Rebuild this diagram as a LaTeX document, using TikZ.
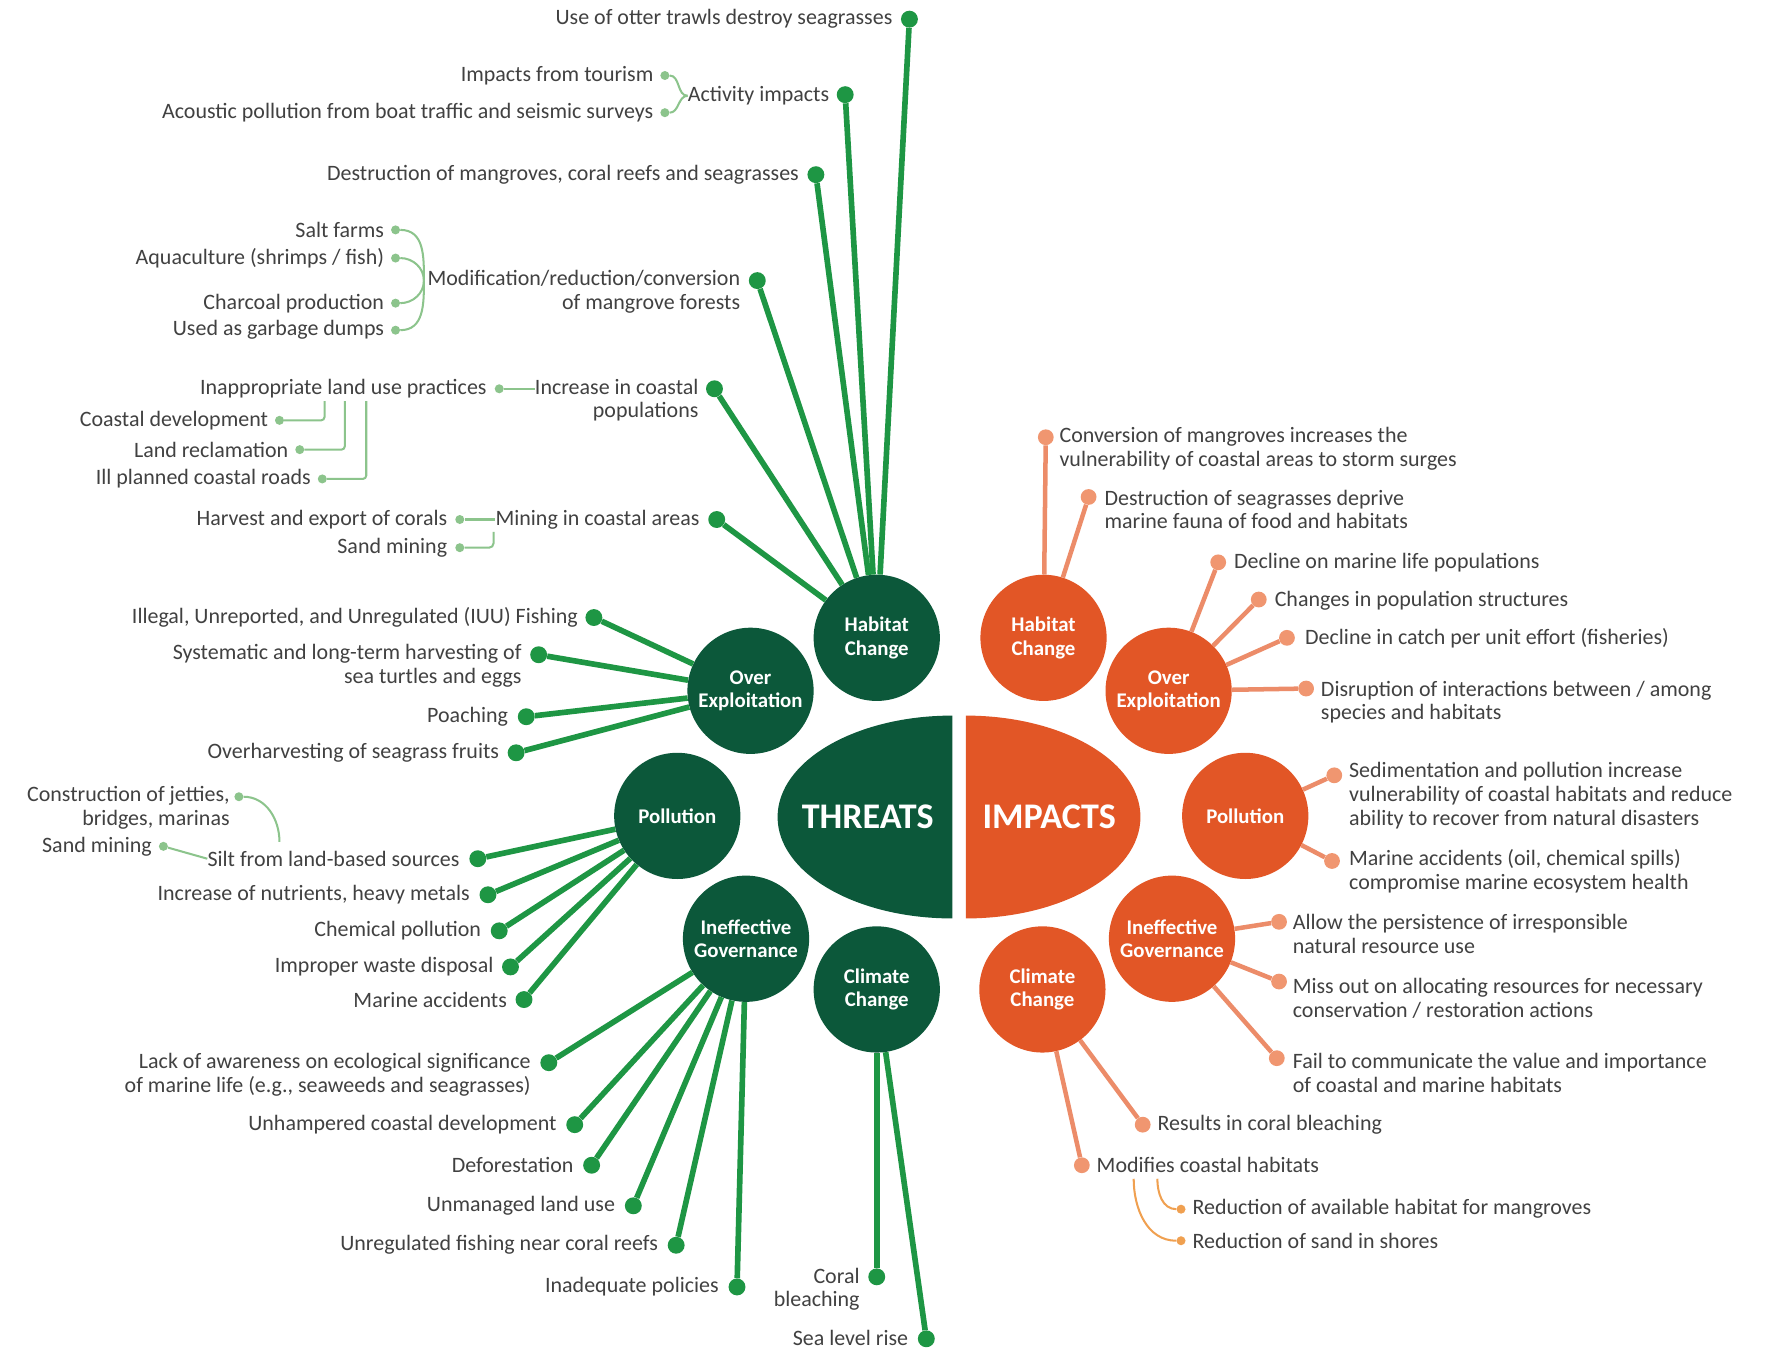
\documentclass[tikz,border=0pt]{standalone}
\usepackage{fontspec}
\setmainfont{Carlito}
\definecolor{gdark}{RGB}{12,88,58}
\definecolor{gline}{RGB}{30,150,68}
\definecolor{glight}{RGB}{140,196,140}
\definecolor{ored}{RGB}{226,86,38}
\definecolor{oline}{RGB}{236,140,105}
\definecolor{odotc}{RGB}{240,150,112}
\definecolor{osub}{RGB}{240,160,80}
\definecolor{txt}{RGB}{65,65,65}
\tikzset{
 gcirc/.style={circle, fill=gdark, minimum size=112pt, inner sep=0pt, text=white, font=\bfseries\fontsize{18.5}{21}\selectfont, align=center},
 ocirc/.style={circle, fill=ored, minimum size=112pt, inner sep=0pt, text=white, font=\bfseries\fontsize{18.5}{21}\selectfont, align=center},
 gdot/.style={circle, fill=gline, minimum size=15pt, inner sep=0pt},
 odot/.style={circle, fill=odotc, minimum size=14pt, inner sep=0pt},
 gsdot/.style={circle, fill=glight, minimum size=8pt, inner sep=0pt},
 osdot/.style={circle, fill=osub, minimum size=8pt, inner sep=0pt},
 lt/.style={anchor=east, align=right, inner sep=0pt, text=txt, font=\fontsize{19.5}{21}\selectfont},
 rt/.style={anchor=west, align=left, inner sep=0pt, text=txt, font=\fontsize{19.5}{21}\selectfont},
 gl/.style={draw=gline, line width=5pt},
 ol/.style={draw=oline, line width=4pt},
 gsl/.style={draw=glight, line width=1.8pt},
 osl/.style={draw=osub, line width=1.8pt},
 big/.style={text=white, font=\bfseries\fontsize{32}{34}\selectfont}
}
\begin{document}
\begin{tikzpicture}[x=1pt,y=1pt]
\fill[white] (0,0) rectangle (1568,-1199);
\useasboundingbox (0,0) rectangle (1568,-1199);

% central shapes
\fill[gdark] (845,-635) arc[start angle=90, end angle=270, x radius=155, y radius=90] -- cycle;
\fill[ored] (857,-635) arc[start angle=90, end angle=-90, x radius=155, y radius=90] -- cycle;
\node[big] (threats) at (770,-725) {THREATS};
\node[big] (impacts) at (931,-725) {IMPACTS};

% threat circles
\node[gcirc] (gH) at (778,-566) {Habitat\\Change};
\node[gcirc] (gO) at (666,-613) {Over\\Exploitation};
\node[gcirc] (gP) at (601,-724) {Pollution};
\node[gcirc] (gG) at (662,-833) {Ineffective\\Governance};
\node[gcirc] (gC) at (778,-878) {Climate\\Change};
% impact circles
\node[ocirc] (oH) at (926,-566) {Habitat\\Change};
\node[ocirc] (oO) at (1037,-613) {Over\\Exploitation};
\node[ocirc] (oP) at (1105,-724) {Pollution};
\node[ocirc] (oG) at (1040,-833) {Ineffective\\Governance};
\node[ocirc] (oC) at (925,-878) {Climate\\Change};

% ---------- Habitat change (threats)
\node[gdot] (H1) at (807,-17) {};
\node[lt] (tH1) at (792,-17) {Use of otter trawls destroy seagrasses};
\node[gdot] (H2) at (750,-84) {};
\node[lt] (tH2) at (736,-85) {Activity impacts};
\node[gsdot] (H2a) at (590,-67) {};
\node[lt] (tH2a) at (580,-67) {Impacts from tourism};
\node[gsdot] (H2b) at (590,-100) {};
\node[lt] (tH2b) at (580,-100) {Acoustic pollution from boat traffic and seismic surveys};
\node[gdot] (H3) at (724,-155) {};
\node[lt] (tH3) at (709,-155) {Destruction of mangroves, coral reefs and seagrasses};
\node[gdot] (H4) at (672,-249) {};
\node[lt] (tH4) at (657,-259) {Modification/reduction/conversion\\of mangrove forests};
\node[gsdot] (H4a) at (351,-204) {};
\node[lt] (tH4a) at (341,-204) {Salt farms};
\node[gsdot] (H4b) at (351,-229) {};
\node[lt] (tH4b) at (341,-229) {Aquaculture (shrimps / fish)};
\node[gsdot] (H4c) at (351,-269) {};
\node[lt] (tH4c) at (341,-269) {Charcoal production};
\node[gsdot] (H4d) at (351,-293) {};
\node[lt] (tH4d) at (341,-293) {Used as garbage dumps};
\node[gdot] (H5) at (634,-345) {};
\node[lt] (tH5) at (620,-355) {Increase in coastal\\populations};
\node[gsdot] (H5a) at (443,-345) {};
\node[lt] (tH5a) at (432,-345) {Inappropriate land use practices};
\node[gsdot] (H5b) at (248,-373) {};
\node[lt] (tH5b) at (238,-373) {Coastal development};
\node[gsdot] (H5c) at (266,-399) {};
\node[lt] (tH5c) at (256,-399) {Land reclamation};
\node[gsdot] (H5d) at (286,-425) {};
\node[lt] (tH5d) at (276,-425) {Ill planned coastal roads};
\node[gdot] (H6) at (636,-461) {};
\node[lt] (tH6) at (621,-461) {Mining in coastal areas};
\node[gsdot] (H6a) at (408,-461) {};
\node[lt] (tH6a) at (397,-461) {Harvest and export of corals};
\node[gsdot] (H6b) at (408,-486) {};
\node[lt] (tH6b) at (397,-486) {Sand mining};

\foreach \d in {H1,H2,H3,H4,H5,H6} \draw[gl] (\d) -- (gH);

\draw[gsl] (H2a) to[out=0,in=180] (tH2.west);
\draw[gsl] (H2b) to[out=0,in=180] (tH2.west);
\coordinate (mj) at ([xshift=-3pt,yshift=10pt]tH4.west);
\draw[gsl] (H4a) to[out=0,in=90,looseness=1.1] (mj);
\draw[gsl] (H4b) to[out=0,in=90] (mj);
\draw[gsl] (H4c) to[out=0,in=-90] (mj);
\draw[gsl] (H4d) to[out=0,in=-90,looseness=1.1] (mj);
\draw[gsl] (H5a) -- (tH5.west |- H5a);
\coordinate (v1) at (288,-356);
\coordinate (v2) at (306,-356);
\coordinate (v3) at (325,-356);
\draw[gsl, rounded corners=3pt] (H5b) -| (v1);
\draw[gsl, rounded corners=3pt] (H5c) -| (v2);
\draw[gsl, rounded corners=3pt] (H5d) -| (v3);
\draw[gsl] (H6a) -- (tH6.west);
\coordinate (sm) at (438,-472);
\draw[gsl, rounded corners=4pt] (H6b) -| (sm);

% ---------- Over exploitation (threats)
\node[gdot] (O1) at (527,-548) {};
\node[lt] (tO1) at (513,-548) {Illegal, Unreported, and Unregulated (IUU) Fishing};
\node[gdot] (O2) at (478,-581) {};
\node[lt] (tO2) at (463,-591) {Systematic and long-term harvesting of\\sea turtles and eggs};
\node[gdot] (O3) at (467,-636) {};
\node[lt] (tO3) at (451,-636) {Poaching};
\node[gdot] (O4) at (458,-668) {};
\node[lt] (tO4) at (443,-668) {Overharvesting of seagrass fruits};
\foreach \d in {O1,O2,O3,O4} \draw[gl] (\d) -- (gO);

% ---------- Pollution (threats)
\node[gdot] (P1) at (424,-762) {};
\node[lt] (tP1) at (408,-762) {Silt from land-based sources};
\node[gsdot] (P1a) at (212,-707) {};
\node[lt] (tP1a) at (204,-717) {Construction of jetties,\\bridges, marinas};
\node[gsdot] (P1b) at (145,-751) {};
\node[lt] (tP1b) at (135,-751) {Sand mining};
\node[gdot] (P2) at (433,-794) {};
\node[lt] (tP2) at (417,-794) {Increase of nutrients, heavy metals};
\node[gdot] (P3) at (443,-826) {};
\node[lt] (tP3) at (427,-826) {Chemical pollution};
\node[gdot] (P4) at (453,-858) {};
\node[lt] (tP4) at (438,-858) {Improper waste disposal};
\node[gdot] (P5) at (465,-887) {};
\node[lt] (tP5) at (450,-887) {Marine accidents};
\foreach \d in {P1,P2,P3,P4,P5} \draw[gl] (\d) -- (gP);
\coordinate (pj) at (248,-747);
\draw[gsl] (P1a) to[out=0,in=90] (pj);
\draw[gsl] (P1b) -- (tP1.west);

% ---------- Ineffective governance (threats)
\node[gdot] (G1) at (487,-943) {};
\node[lt] (tG1) at (471,-954) {Lack of awareness on ecological significance\\of marine life (e.g., seaweeds and seagrasses)};
\node[gdot] (G2) at (510,-998) {};
\node[lt] (tG2) at (494,-998) {Unhampered coastal development};
\node[gdot] (G3) at (525,-1034) {};
\node[lt] (tG3) at (509,-1034) {Deforestation};
\node[gdot] (G4) at (562,-1070) {};
\node[lt] (tG4) at (546,-1070) {Unmanaged land use};
\node[gdot] (G5) at (600,-1105) {};
\node[lt] (tG5) at (584,-1105) {Unregulated fishing near coral reefs};
\node[gdot] (G6) at (654,-1142) {};
\node[lt] (tG6) at (638,-1142) {Inadequate policies};
\foreach \d in {G1,G2,G3,G4,G5,G6} \draw[gl] (\d) -- (gG);

% ---------- Climate change (threats)
\node[gdot] (C1) at (778,-1133) {};
\node[lt] (tC1) at (763,-1144) {Coral\\bleaching};
\node[gdot] (C2) at (822,-1188) {};
\node[lt] (tC2) at (806,-1187) {Sea level rise};
\foreach \d in {C1,C2} \draw[gl] (\d) -- (gC);

% ---------- Impacts
\node[odot] (IH1) at (928,-388) {};
\node[rt] (tIH1) at (940,-398) {Conversion of mangroves increases the\\vulnerability of coastal areas to storm surges};
\node[odot] (IH2) at (966,-441) {};
\node[rt] (tIH2) at (980,-452) {Destruction of seagrasses deprive\\marine fauna of food and habitats};
\foreach \d in {IH1,IH2} \draw[ol] (\d) -- (oH);

\node[odot] (IO1) at (1081,-499) {};
\node[rt] (tIO1) at (1095,-499) {Decline on marine life populations};
\node[odot] (IO2) at (1117,-532) {};
\node[rt] (tIO2) at (1131,-533) {Changes in population structures};
\node[odot] (IO3) at (1142,-566) {};
\node[rt] (tIO3) at (1158,-566) {Decline in catch per unit effort (fisheries)};
\node[odot] (IO4) at (1159,-611) {};
\node[rt] (tIO4) at (1172,-623) {Disruption of interactions between / among\\species and habitats};
\foreach \d in {IO1,IO2,IO3,IO4} \draw[ol] (\d) -- (oO);

\node[odot] (IP1) at (1184,-688) {};
\node[rt] (tIP1) at (1197,-706) {Sedimentation and pollution increase\\vulnerability of coastal habitats and reduce\\ability to recover from natural disasters};
\node[odot] (IP2) at (1182,-764) {};
\node[rt] (tIP2) at (1197,-773) {Marine accidents (oil, chemical spills)\\compromise marine ecosystem health};
\foreach \d in {IP1,IP2} \draw[ol] (\d) -- (oP);

\node[odot] (IG1) at (1135,-818) {};
\node[rt] (tIG1) at (1147,-829) {Allow the persistence of irresponsible\\natural resource use};
\node[odot] (IG2) at (1135,-871) {};
\node[rt] (tIG2) at (1147,-886) {Miss out on allocating resources for necessary\\conservation / restoration actions};
\node[odot] (IG3) at (1133,-939) {};
\node[rt] (tIG3) at (1147,-952) {Fail to communicate the value and importance\\of coastal and marine habitats};
\foreach \d in {IG1,IG2,IG3} \draw[ol] (\d) -- (oG);

\node[odot] (IC1) at (1014,-998) {};
\node[rt] (tIC1) at (1027,-998) {Results in coral bleaching};
\node[odot] (IC2) at (960,-1034) {};
\node[rt] (tIC2) at (973,-1034) {Modifies coastal habitats};
\foreach \d in {IC1,IC2} \draw[ol] (\d) -- (oC);
\node[osdot] (IC2a) at (1048,-1073) {};
\node[rt] (tIC2a) at (1058,-1073) {Reduction of available habitat for mangroves};
\node[osdot] (IC2b) at (1048,-1101) {};
\node[rt] (tIC2b) at (1058,-1101) {Reduction of sand in shores};
\coordinate (cj1) at (1027,-1046);
\coordinate (cj2) at (1006,-1046);
\draw[osl] (cj1) to[out=-90,in=180] (IC2a);
\draw[osl] (cj2) to[out=-90,in=180] (IC2b);
\end{tikzpicture}
\end{document}
